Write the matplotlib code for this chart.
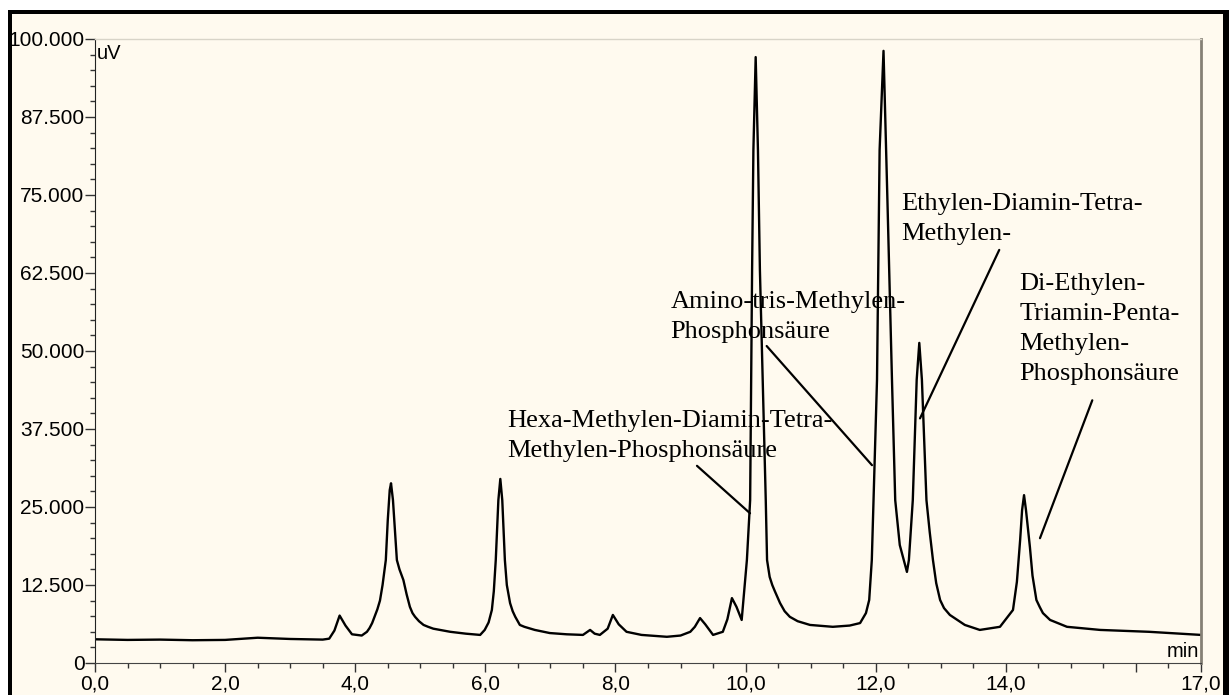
import matplotlib
matplotlib.use("Agg")
import matplotlib.pyplot as plt
from matplotlib.patches import Rectangle
from matplotlib.ticker import FixedLocator, MultipleLocator

# retention time (min) and detector signal (uV)
time_min = [
    0.0, 0.5, 1.0, 1.5, 2.0, 2.3, 2.5, 3.0, 3.5, 3.6, 3.68, 3.76, 3.85, 3.95,
    4.1, 4.18, 4.22, 4.26, 4.3, 4.34, 4.38, 4.42, 4.47, 4.50, 4.53, 4.55,
    4.58, 4.61, 4.64, 4.68, 4.74, 4.79, 4.84, 4.88, 4.92, 4.98, 5.05, 5.12,
    5.2, 5.46, 5.7, 5.92, 5.99, 6.05, 6.10, 6.13, 6.16, 6.20, 6.23, 6.26,
    6.30, 6.33, 6.38, 6.42, 6.46, 6.53, 6.6, 6.76, 6.99, 7.25, 7.5, 7.61,
    7.68, 7.76, 7.88, 7.96, 8.05, 8.17, 8.4, 8.79, 9.0, 9.15, 9.22, 9.30,
    9.38, 9.5, 9.65, 9.72, 9.79, 9.86, 9.94, 10.02, 10.07, 10.10, 10.12,
    10.155, 10.19, 10.22, 10.31, 10.33, 10.37, 10.41, 10.45, 10.53, 10.6,
    10.68, 10.8, 10.99, 11.34, 11.6, 11.76, 11.85, 11.90, 11.94, 12.02,
    12.06, 12.12, 12.16, 12.18, 12.25, 12.30, 12.37, 12.48, 12.51, 12.57,
    12.63, 12.67, 12.71, 12.78, 12.83, 12.88, 12.93, 12.99, 13.05, 13.14,
    13.37, 13.6, 13.91, 14.11, 14.17, 14.22, 14.25, 14.28, 14.31, 14.37,
    14.41, 14.47, 14.52, 14.57, 14.68, 14.94, 15.45, 16.2, 17.0,
]
signal_uv = [
    3800, 3700, 3750, 3650, 3700, 3900, 4050, 3850, 3750, 3900, 5200, 7600,
    6000, 4600, 4400, 5000, 5600, 6400, 7500, 8600, 10000, 12500, 16500,
    22900, 27700, 28800, 26100, 21300, 16500, 15000, 13300, 11000, 9000,
    8000, 7400, 6700, 6100, 5800, 5500, 5000, 4700, 4500, 5300, 6500, 8500,
    11500, 16500, 26100, 29500, 26100, 16500, 12500, 9600, 8300, 7400, 6100,
    5800, 5300, 4800, 4600, 4500, 5300, 4700, 4500, 5500, 7700, 6200, 5000,
    4500, 4200, 4400, 5000, 5800, 7200, 6200, 4500, 5000, 7000, 10400, 9000,
    6900, 16500, 26100, 63000, 82200, 97100, 82200, 63000, 26100, 16500,
    13800, 12500, 11500, 9600, 8300, 7400, 6700, 6100, 5800, 6000, 6400,
    8000, 10100, 16500, 45400, 82200, 98100, 82200, 74200, 45400, 26100,
    18900, 14600, 16500, 26100, 45400, 51300, 45400, 26100, 21000, 16500,
    12800, 10100, 8800, 7700, 6100, 5300, 5800, 8500, 13000, 19700, 24500,
    26900, 24500, 18600, 14000, 10100, 9000, 8000, 6900, 5800, 5300, 5000,
    4500,
]

y_ticks = [0, 12500, 25000, 37500, 50000, 62500, 75000, 87500, 100000]
y_tick_labels = ["0", "12.500", "25.000", "37.500", "50.000", "62.500",
                 "75.000", "87.500", "100.000"]
x_ticks = [0, 2, 4, 6, 8, 10, 12, 14, 16, 17]
x_tick_labels = ["0,0", "2,0", "4,0", "6,0", "8,0", "10,0", "12,0", "14,0",
                 "", "17,0"]

peak_names = [
    "Hexa-Methylen-Diamin-Tetra-\nMethylen-Phosphonsäure",
    "Amino-tris-Methylen-\nPhosphonsäure",
    "Ethylen-Diamin-Tetra-\nMethylen-",
    "Di-Ethylen-\nTriamin-Penta-\nMethylen-\nPhosphonsäure",
]
# label anchor (upper left), leader start, leader end -- all in data units
label_pos = [(6.337, 40600), (8.849, 59600), (12.399, 75300), (14.207, 62500)]
leader_from = [(9.253, 31600), (10.324, 50800), (13.899, 66200), (15.329, 42100)]
leader_to = [(10.068, 24000), (11.943, 31700), (12.681, 39200), (14.525, 20000)]

cream = "#fffaef"
W, H = 1229, 695

fig = plt.figure(figsize=(W / 100, H / 100), dpi=100, facecolor="white")
# black frame cut off at right and bottom, as in the screenshot
fig.patches.append(Rectangle((8.3 / W, -0.1), 1.2, (H - 10) / H + 0.1,
                             transform=fig.transFigure, facecolor="black",
                             edgecolor="none", zorder=-10))
fig.patches.append(Rectangle((12.3 / W, -0.1), (1223 - 12.3) / W,
                             (H - 14) / H + 0.1, transform=fig.transFigure,
                             facecolor=cream, edgecolor="none", zorder=-9))

ax = fig.add_axes([95 / W, 32 / H, (1201 - 95) / W, (663 - 39) / H])
ax.set_zorder(5)
ax.set_facecolor(cream)
ax.plot(time_min, signal_uv, color="black", lw=1.7, solid_joinstyle="round")

ax.set_xlim(0, 17)
ax.set_ylim(0, 100000)

sans = "Liberation Sans"
ax.yaxis.set_major_locator(FixedLocator(y_ticks))
ax.set_yticklabels(y_tick_labels, family=sans, fontsize=15)
ax.yaxis.set_minor_locator(MultipleLocator(2500))
ax.xaxis.set_major_locator(FixedLocator(x_ticks))
ax.set_xticklabels(x_tick_labels, family=sans, fontsize=15)
ax.xaxis.set_minor_locator(MultipleLocator(0.5))

# tick lengths in points: 10 px major, 5 px minor at 100 dpi
ax.tick_params(axis="y", which="major", length=7.2, width=1,
               color="#333333", pad=0.4)
ax.tick_params(axis="y", which="minor", length=3.6, width=1, color="#333333")
ax.tick_params(axis="x", which="major", length=6.8, width=1,
               color="#333333", pad=1.5)
ax.tick_params(axis="x", which="minor", length=3.6, width=1, color="#333333")

ax.spines["left"].set_color("#222222")
ax.spines["bottom"].set_color("#444444")
ax.spines["right"].set_color("#858075")
ax.spines["right"].set_linewidth(2)
ax.spines["top"].set_color("#d8d4c8")
ax.spines["top"].set_linewidth(1)

ax.text(0.002, 0.992, "uV", transform=ax.transAxes, ha="left", va="top",
        family=sans, fontsize=14.5)
ax.text(0.998, 0.009, "min", transform=ax.transAxes, ha="right",
        va="baseline", family=sans, fontsize=14.5)

for name, pos, p0, p1 in zip(peak_names, label_pos, leader_from, leader_to):
    ax.text(pos[0], pos[1], name, ha="left", va="top", linespacing=1.48,
            family="Liberation Serif", fontsize=19)
    ax.annotate("", xy=p1, xytext=p0,
                arrowprops=dict(arrowstyle="-", color="black", lw=1.6,
                                shrinkA=0, shrinkB=0))

fig.savefig("out.png", dpi=100, facecolor=fig.get_facecolor())
